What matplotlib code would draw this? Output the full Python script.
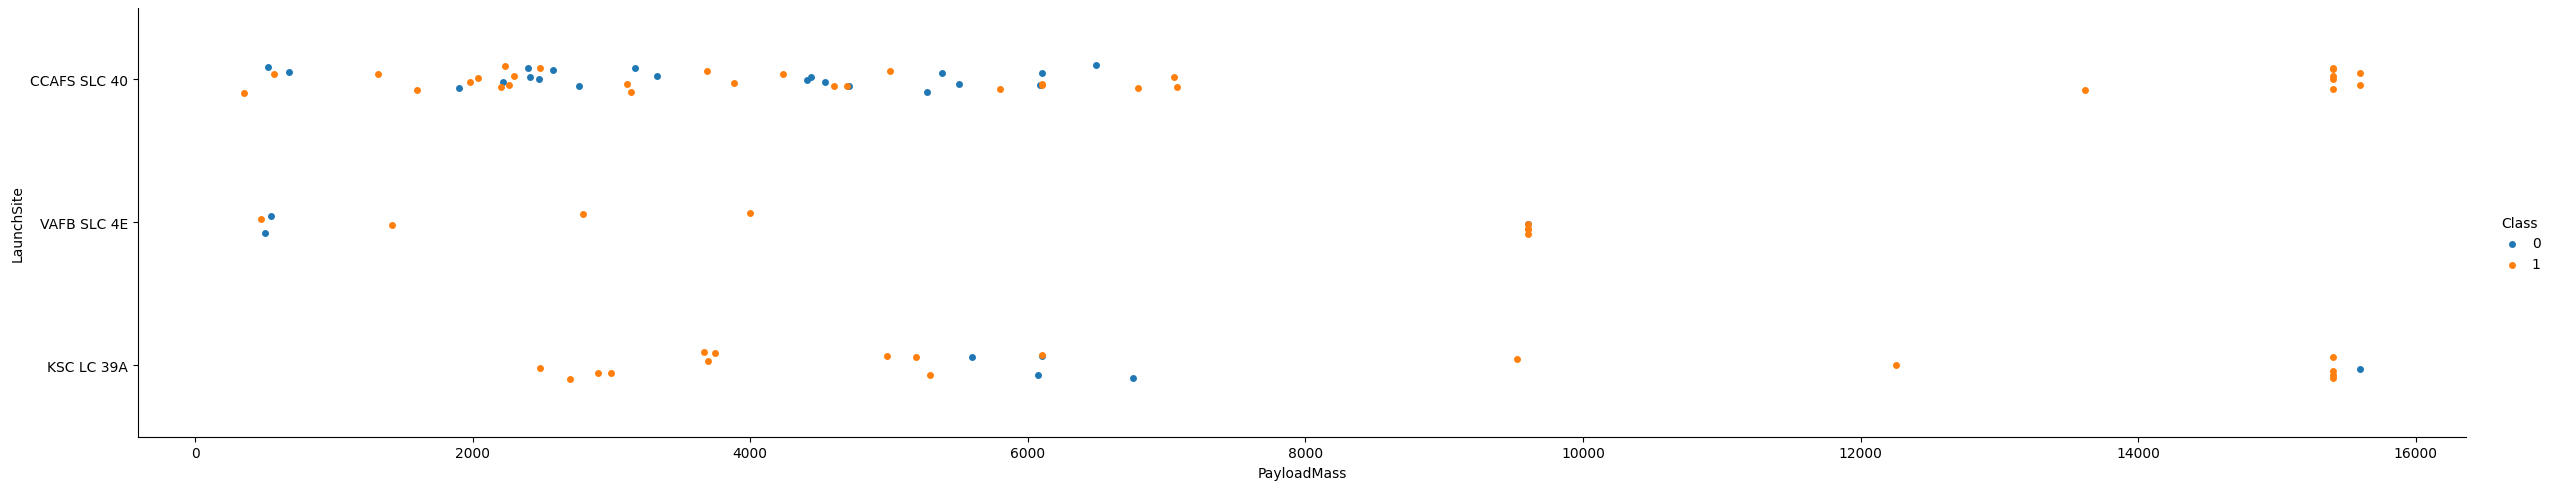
import numpy as np
import matplotlib

matplotlib.use("Agg")
import matplotlib.pyplot as plt

SITES = ["CCAFS SLC 40", "VAFB SLC 4E", "KSC LC 39A"]
CLASSES = [0, 1]
COLORS = ["#1f77b4", "#ff7f0e"]

# payload mass per (site, class)
CCAFS_0 = [525, 677, 1898, 2216, 2395, 2410, 2480, 2575, 2765, 3170, 3325,
           4405, 4435, 4540, 4710, 5270, 5380, 5500, 6090, 6105, 6490]
CCAFS_1 = [350, 570, 1315, 1600, 1978, 2036, 2205, 2230, 2259, 2297, 2483,
           3109, 3138, 3685, 3884, 4236, 4604, 4700, 5006, 5796, 6100, 6105,
           6795, 7053, 7073, 13617, 15400, 15400, 15400, 15400, 15400,
           15600, 15600]
VAFB_0 = [500, 550, 9600]
VAFB_1 = [475, 1421, 2797, 3997, 9600, 9600, 9600, 9600]
KSC_0 = [5596, 6071, 6100, 6758, 15596]
KSC_1 = [2487, 2703, 2906, 2998, 3663, 3696, 3744, 4986, 5195, 5295, 6100,
         9522, 12256, 15400, 15400, 15400, 15400]

DATA = {
    ("CCAFS SLC 40", 0): CCAFS_0, ("CCAFS SLC 40", 1): CCAFS_1,
    ("VAFB SLC 4E", 0): VAFB_0, ("VAFB SLC 4E", 1): VAFB_1,
    ("KSC LC 39A", 0): KSC_0, ("KSC LC 39A", 1): KSC_1,
}

rng = np.random.default_rng(3)  # strip jitter only

fig = plt.figure(figsize=(25.53, 4.89), dpi=100)
ax = fig.add_axes([0.054, 0.105, 0.912, 0.877])

handles = []
for i, site in enumerate(SITES):
    for c, col in zip(CLASSES, COLORS):
        vals = np.asarray(DATA[(site, c)], dtype=float)
        y = i + rng.uniform(-0.1, 0.1, size=len(vals))
        h = ax.scatter(vals, y, s=25, color=col, linewidth=0, zorder=3)
        if i == 0:
            handles.append(h)

ax.set_yticks(range(len(SITES)))
ax.set_yticklabels(SITES)
ax.set_ylim(len(SITES) - 0.5, -0.5)
ax.set_xlabel("PayloadMass")
ax.set_ylabel("LaunchSite")
ax.spines["top"].set_visible(False)
ax.spines["right"].set_visible(False)

fig.legend(handles, [str(c) for c in CLASSES], title="Class", loc="center right",
           bbox_to_anchor=(1.0, 0.5), frameon=False, handletextpad=0.4)

fig.savefig("out.png", dpi=100)
